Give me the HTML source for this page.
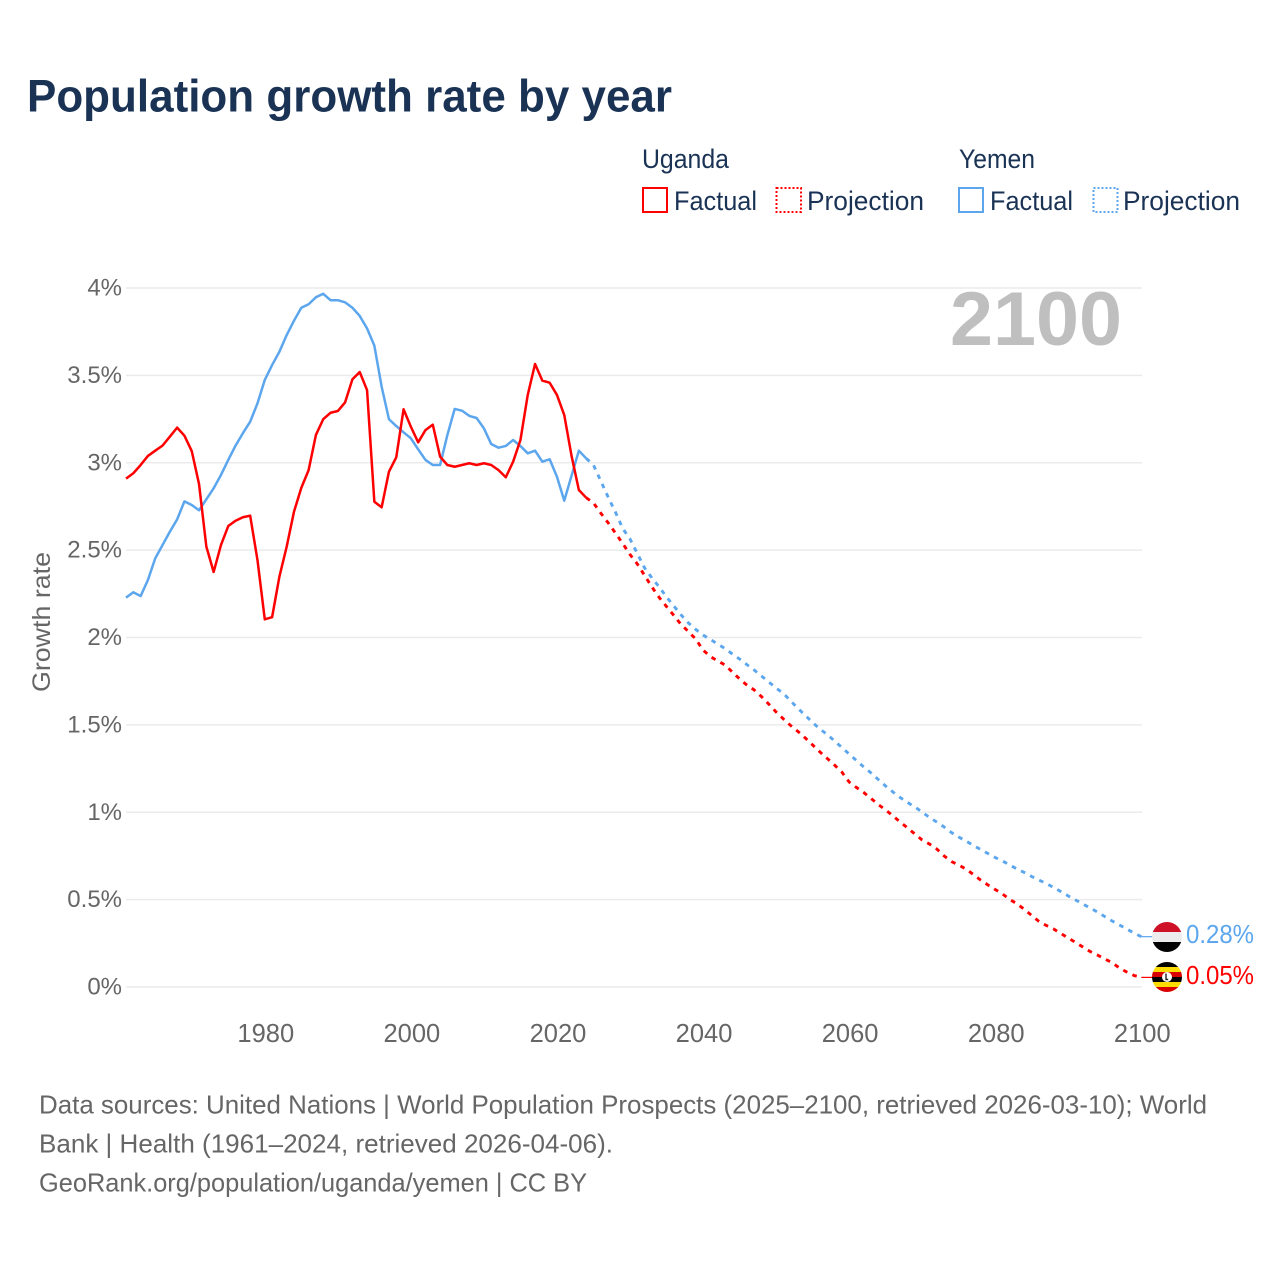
<!DOCTYPE html>
<html lang="en">
<head>
<meta charset="utf-8">
<title>Population growth rate by year</title>
<style>
html,body{margin:0;padding:0;background:#fff;width:1280px;height:1280px;overflow:hidden}
svg{display:block}
text{font-family:"Liberation Sans",sans-serif}
.note{font-size:26px;fill:#666}
.leg{font-size:27px;fill:#1a3355}
</style>
</head>
<body>
<svg id="chart" xmlns="http://www.w3.org/2000/svg" width="1280" height="1280" viewBox="0 0 1280 1280">
  <rect width="1280" height="1280" fill="#fff"/>
  <text x="27" y="111.5" font-size="45" font-weight="700" fill="#1a3355" textLength="645" lengthAdjust="spacingAndGlyphs">Population growth rate by year</text>

  <g>
    <text class="leg" x="642" y="168" textLength="87" lengthAdjust="spacingAndGlyphs">Uganda</text>
    <text class="leg" x="959" y="168" textLength="76" lengthAdjust="spacingAndGlyphs">Yemen</text>
    <rect x="643" y="188" width="24" height="24" fill="none" stroke="#ff0000" stroke-width="2"/>
    <text class="leg" x="674" y="210" textLength="83" lengthAdjust="spacingAndGlyphs">Factual</text>
    <rect x="776.5" y="188" width="24.5" height="24" fill="none" stroke="#ff0000" stroke-width="2" stroke-dasharray="2 2"/>
    <text class="leg" x="807" y="210" textLength="117" lengthAdjust="spacingAndGlyphs">Projection</text>
    <rect x="959" y="188" width="24" height="24" fill="none" stroke="#5ca6ee" stroke-width="2"/>
    <text class="leg" x="990" y="210" textLength="83" lengthAdjust="spacingAndGlyphs">Factual</text>
    <rect x="1093.5" y="188" width="24" height="24" fill="none" stroke="#5ca6ee" stroke-width="2" stroke-dasharray="2 2"/>
    <text class="leg" x="1123" y="210" textLength="117" lengthAdjust="spacingAndGlyphs">Projection</text>
  </g>

  <g id="grid"></g>
  <g id="yticks"></g>
  <g id="xticks"></g>
  <text transform="translate(50,692) rotate(-90)" font-size="25" fill="#666" textLength="140" lengthAdjust="spacingAndGlyphs">Growth rate</text>
  <text x="950" y="345" font-size="76" font-weight="700" fill="#bfbfbf" textLength="172" lengthAdjust="spacingAndGlyphs">2100</text>

  <g id="series"></g>

  <defs>
    <clipPath id="clip-ye"><circle cx="1167" cy="937" r="15"/></clipPath>
    <clipPath id="clip-ug"><circle cx="1167" cy="977" r="15"/></clipPath>
  </defs>
  <g clip-path="url(#clip-ye)">
    <rect x="1152" y="922" width="30" height="10" fill="#ce1126"/>
    <rect x="1152" y="932" width="30" height="10" fill="#ececec"/>
    <rect x="1152" y="942" width="30" height="10" fill="#000"/>
  </g>
  <g clip-path="url(#clip-ug)">
    <rect x="1152" y="962" width="30" height="5" fill="#000"/>
    <rect x="1152" y="967" width="30" height="5" fill="#fcdc04"/>
    <rect x="1152" y="972" width="30" height="5" fill="#d90000"/>
    <rect x="1152" y="977" width="30" height="5" fill="#000"/>
    <rect x="1152" y="982" width="30" height="5" fill="#fcdc04"/>
    <rect x="1152" y="987" width="30" height="5" fill="#d90000"/>
    <circle cx="1167" cy="977" r="5" fill="#fff"/>
    <path d="M1166 973.5v6h2.2" fill="none" stroke="#222" stroke-width="1.4"/>
  </g>
  <text id="label-ye" x="1186" y="943" font-size="25.5" fill="#5ca6ee" textLength="68" lengthAdjust="spacingAndGlyphs">0.28%</text>
  <text id="label-ug" x="1186" y="984" font-size="25.5" fill="#ff0000" textLength="68" lengthAdjust="spacingAndGlyphs">0.05%</text>

  <g>
    <text class="note" x="39" y="1113.5" textLength="1168" lengthAdjust="spacingAndGlyphs">Data sources: United Nations | World Population Prospects (2025–2100, retrieved 2026-03-10); World</text>
    <text class="note" x="39" y="1152.5" textLength="574" lengthAdjust="spacingAndGlyphs">Bank | Health (1961–2024, retrieved 2026-04-06).</text>
    <text class="note" x="39" y="1191.5" textLength="548" lengthAdjust="spacingAndGlyphs">GeoRank.org/population/uganda/yemen | CC BY</text>
  </g>
</svg>

<script>
const yTickValues = [0, 0.5, 1, 1.5, 2, 2.5, 3, 3.5, 4];
const yTickLabels = ["0%", "0.5%", "1%", "1.5%", "2%", "2.5%", "3%", "3.5%", "4%"];
const xTickYears = [1980, 2000, 2020, 2040, 2060, 2080, 2100];
const firstYear = 1961;
const lastFactualYear = 2024;
const lastYear = 2100;

const ugandaFactual = [
2.909,2.940,2.987,3.039,3.069,3.098,3.149,3.201,3.155,3.067,
2.878,2.520,2.375,2.529,2.638,2.668,2.688,2.697,2.443,2.104,
2.116,2.348,2.520,2.720,2.856,2.958,3.159,3.249,3.286,3.296,
3.346,3.478,3.519,3.416,2.777,2.745,2.949,3.031,3.306,3.206,
3.117,3.187,3.218,3.035,2.987,2.977,2.987,2.997,2.987,2.997,
2.987,2.958,2.917,3.006,3.130,3.388,3.565,3.470,3.458,3.388,
3.273,3.039,2.844,2.800];

const ugandaProjection = [
2.770,2.712,2.657,2.598,2.538,2.475,2.421,2.355,2.289,2.229,
2.177,2.126,2.074,2.034,1.991,1.928,1.891,1.866,1.843,1.803,
1.763,1.728,1.700,1.662,1.619,1.574,1.534,1.496,1.462,1.425,
1.385,1.345,1.308,1.270,1.230,1.173,1.142,1.113,1.079,1.044,
1.013,0.979,0.944,0.910,0.876,0.841,0.818,0.790,0.750,0.718,
0.698,0.675,0.644,0.612,0.584,0.558,0.532,0.501,0.475,0.444,
0.409,0.375,0.352,0.332,0.306,0.280,0.255,0.229,0.203,0.183,
0.160,0.140,0.109,0.086,0.066,0.055];

const yemenFactual = [
2.228,2.259,2.237,2.329,2.453,2.529,2.605,2.676,2.779,2.758,
2.728,2.791,2.854,2.930,3.016,3.098,3.169,3.235,3.340,3.474,
3.559,3.635,3.731,3.813,3.887,3.907,3.947,3.967,3.930,3.930,
3.918,3.887,3.840,3.769,3.670,3.435,3.249,3.210,3.174,3.140,
3.077,3.016,2.987,2.987,3.159,3.308,3.298,3.268,3.256,3.197,
3.107,3.086,3.096,3.130,3.096,3.054,3.069,3.006,3.020,2.920,
2.783,2.926,3.069,3.025];

const yemenProjection = [
2.987,2.896,2.804,2.718,2.624,2.564,2.481,2.398,2.341,2.289,
2.232,2.180,2.129,2.083,2.046,2.014,1.989,1.963,1.937,1.906,
1.877,1.845,1.814,1.780,1.745,1.711,1.680,1.637,1.594,1.554,
1.514,1.476,1.445,1.408,1.371,1.333,1.296,1.259,1.225,1.187,
1.150,1.116,1.084,1.056,1.030,1.001,0.970,0.944,0.916,0.884,
0.858,0.835,0.810,0.787,0.764,0.741,0.721,0.698,0.675,0.655,
0.632,0.612,0.592,0.569,0.546,0.521,0.498,0.475,0.452,0.429,
0.403,0.378,0.355,0.332,0.309,0.288];

const NS = "http://www.w3.org/2000/svg";
const X0 = 126, X1 = 1141.3, Y0 = 987, Y4 = 288;
function xScale(year){ return X0 + (year - firstYear) * (X1 - X0) / (lastYear - firstYear); }
function yScale(v){ return Y0 - v * (Y0 - Y4) / 4; }
function make(tag, attrs, parent){
  const el = document.createElementNS(NS, tag);
  for (const k in attrs) el.setAttribute(k, attrs[k]);
  parent.appendChild(el);
  return el;
}

const grid = document.getElementById("grid");
const yticks = document.getElementById("yticks");
const xticks = document.getElementById("xticks");
const series = document.getElementById("series");

yTickValues.forEach(function(v, i){
  const line = make("line", {x1: X0, x2: X1 + 0.7, y1: yScale(v), y2: yScale(v), stroke: "#ebebeb", "stroke-width": 1.5}, grid);
  
  
  const t = make("text", {x: 122, y: yScale(v) + 7.5, "text-anchor": "end", "font-size": 24, fill: "#666"}, yticks);
  
  
  t.textContent = yTickLabels[i];
});

xTickYears.forEach(function(yr){
  const t = make("text", {x: xScale(yr) + 1, y: 1042, "text-anchor": "middle", "font-size": 25.5, fill: "#666"}, xticks);
  
  
  t.textContent = String(yr);
});

function polyPoints(values, startYear){
  return values.map(function(v, i){
    return xScale(startYear + i).toFixed(2) + "," + yScale(v).toFixed(2);
  }).join(" ");
}
function drawSeries(factual, projection, color, name){
  const proj = [factual[factual.length - 1]].concat(projection);
  const p = make("polyline", {points: polyPoints(proj, lastFactualYear), fill: "none", stroke: color, "stroke-width": 2.9, "stroke-dasharray": "4.6 5.6"}, series);
  
  
  const f = make("polyline", {points: polyPoints(factual, firstYear), fill: "none", stroke: color, "stroke-width": 2.5, "stroke-linejoin": "round"}, series);
  
  
  const last = projection[projection.length - 1];
  const c = make("line", {x1: xScale(lastYear), x2: 1155, y1: yScale(last), y2: yScale(last), stroke: color, "stroke-width": 1.2}, series);
  
  
}
drawSeries(yemenFactual, yemenProjection, "#5ca6ee", "yemen");
drawSeries(ugandaFactual, ugandaProjection, "#ff0000", "uganda");
</script>
</body>
</html>
